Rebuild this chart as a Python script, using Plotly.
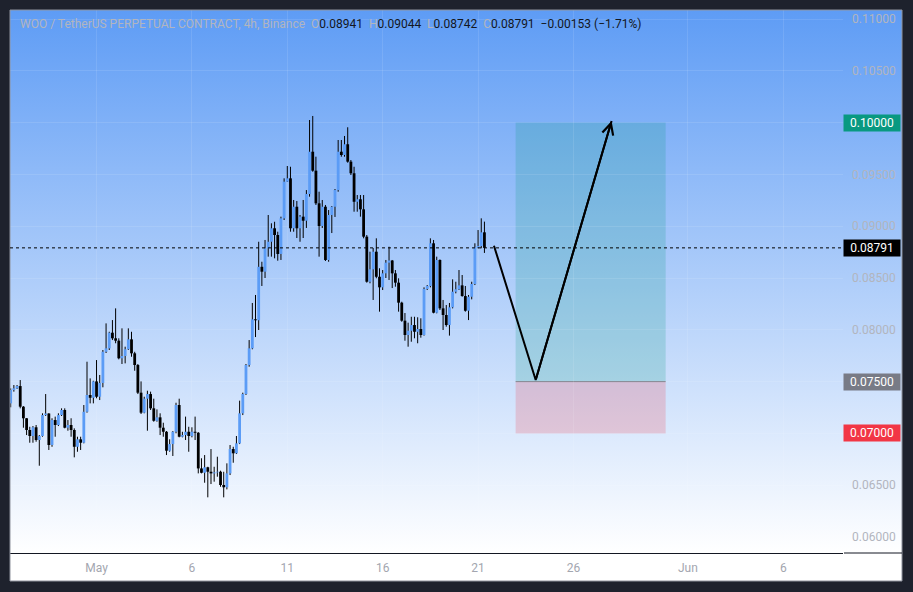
import base64
import pandas as pd
import plotly.graph_objects as go

# ---------------- data ----------------
start_time = "2025-04-26 12:00"
n_candles = 150
times = pd.date_range(start=start_time, periods=n_candles, freq="4h")

open_ = [0.07290, 0.07419, 0.07435, 0.07457, 0.07258, 0.07146, 0.07033, 0.06975, 0.07059, 0.06936,
         0.06975, 0.07177, 0.07192, 0.06888, 0.07129, 0.07081, 0.07177, 0.07226, 0.07055, 0.07081,
         0.07033, 0.06871, 0.06943, 0.06910, 0.07209, 0.07371, 0.07344, 0.07502, 0.07354, 0.07487,
         0.07788, 0.07821, 0.07972, 0.07918, 0.07895, 0.07725, 0.07747, 0.07812, 0.07908, 0.07773,
         0.07660, 0.07393, 0.07200, 0.07335, 0.07380, 0.07242, 0.07122, 0.07155, 0.07055, 0.07016,
         0.06833, 0.06897, 0.07016, 0.07274, 0.06968, 0.06984, 0.07016, 0.06975, 0.07016, 0.07006,
         0.06662, 0.06620, 0.06673, 0.06630, 0.06614, 0.06624, 0.06630, 0.06502, 0.06480, 0.06614,
         0.06849, 0.06808, 0.06904, 0.07194, 0.07380, 0.07660, 0.07821, 0.08101, 0.08092, 0.08608,
         0.08561, 0.08787, 0.08850, 0.08980, 0.08915, 0.08732, 0.09076, 0.09430, 0.09462, 0.08980,
         0.09188, 0.08980, 0.09092, 0.09053, 0.09311, 0.09719, 0.09536, 0.09221, 0.09002, 0.09188,
         0.08674, 0.09108, 0.09188, 0.09349, 0.09719, 0.09687, 0.09791, 0.09623, 0.09511, 0.09236,
         0.09260, 0.09163, 0.08899, 0.08464, 0.08584, 0.08754, 0.08512, 0.08410, 0.08545, 0.08648,
         0.08669, 0.08545, 0.08455, 0.08262, 0.08088, 0.07950, 0.07991, 0.08046, 0.07981, 0.08008,
         0.07950, 0.08394, 0.08423, 0.08835, 0.08165, 0.08674, 0.08207, 0.08143, 0.08046, 0.08217,
         0.08368, 0.08391, 0.08429, 0.08326, 0.08184, 0.08319, 0.08442, 0.08796, 0.08809, 0.08941]

high = [0.07435, 0.07467, 0.07467, 0.07515, 0.07264, 0.07148, 0.07064, 0.07071, 0.07081, 0.06984,
        0.07194, 0.07380, 0.07195, 0.07146, 0.07162, 0.07194, 0.07242, 0.07242, 0.07129, 0.07146,
        0.07049, 0.06968, 0.06968, 0.07274, 0.07692, 0.07531, 0.07508, 0.07708, 0.07564, 0.07805,
        0.08062, 0.07981, 0.08094, 0.08207, 0.07918, 0.08014, 0.07837, 0.08014, 0.07981, 0.07788,
        0.07670, 0.07502, 0.07354, 0.07412, 0.07403, 0.07335, 0.07232, 0.07194, 0.07103, 0.07023,
        0.06943, 0.07023, 0.07296, 0.07335, 0.07016, 0.07162, 0.07064, 0.07059, 0.07162, 0.07013,
        0.06760, 0.06791, 0.06678, 0.06849, 0.06678, 0.06775, 0.06640, 0.06630, 0.06711, 0.06888,
        0.06871, 0.06975, 0.07316, 0.07393, 0.07670, 0.07901, 0.08259, 0.08336, 0.08850, 0.08657,
        0.08867, 0.09108, 0.09028, 0.09043, 0.08947, 0.09092, 0.09462, 0.09581, 0.09574, 0.09253,
        0.09243, 0.09108, 0.09253, 0.09349, 0.10025, 0.10064, 0.09671, 0.09333, 0.09253, 0.09205,
        0.09156, 0.09195, 0.09359, 0.09832, 0.09832, 0.09871, 0.09955, 0.09639, 0.09574, 0.09301,
        0.09301, 0.09301, 0.08915, 0.08754, 0.08790, 0.08883, 0.08594, 0.08577, 0.08674, 0.08802,
        0.08674, 0.08577, 0.08497, 0.08271, 0.08162, 0.08069, 0.08126, 0.08126, 0.08121, 0.08111,
        0.08410, 0.08432, 0.08883, 0.08867, 0.08706, 0.08680, 0.08288, 0.08239, 0.08259, 0.08487,
        0.08464, 0.08577, 0.08529, 0.08423, 0.08336, 0.08464, 0.08835, 0.08963, 0.09076, 0.09044]

low = [0.07252, 0.07403, 0.07429, 0.07242, 0.07055, 0.06984, 0.06910, 0.06910, 0.06920, 0.06688,
       0.06968, 0.07168, 0.06840, 0.06871, 0.06968, 0.07071, 0.07168, 0.07049, 0.07026, 0.06968,
       0.06769, 0.06823, 0.06840, 0.06904, 0.07200, 0.07290, 0.07290, 0.07339, 0.07322, 0.07445,
       0.07776, 0.07805, 0.07901, 0.07870, 0.07715, 0.07670, 0.07676, 0.07805, 0.07740, 0.07605,
       0.07380, 0.07187, 0.07194, 0.07026, 0.07226, 0.07113, 0.07113, 0.06984, 0.06968, 0.06791,
       0.06823, 0.06782, 0.07001, 0.06962, 0.06962, 0.06936, 0.06823, 0.06962, 0.06936, 0.06614,
       0.06614, 0.06524, 0.06383, 0.06511, 0.06534, 0.06582, 0.06485, 0.06383, 0.06460, 0.06598,
       0.06717, 0.06801, 0.06897, 0.07177, 0.07371, 0.07644, 0.07812, 0.07930, 0.07998, 0.08423,
       0.08500, 0.08706, 0.08706, 0.08690, 0.08667, 0.08674, 0.09060, 0.09427, 0.08947, 0.08947,
       0.08886, 0.08850, 0.08886, 0.08983, 0.09285, 0.09526, 0.09205, 0.08706, 0.08983, 0.08664,
       0.08657, 0.08934, 0.09089, 0.09333, 0.09671, 0.09671, 0.09613, 0.09494, 0.09140, 0.09140,
       0.09092, 0.08883, 0.08455, 0.08449, 0.08288, 0.08497, 0.08175, 0.08384, 0.08500, 0.08481,
       0.08403, 0.08416, 0.08175, 0.08078, 0.07895, 0.07837, 0.07885, 0.07918, 0.07870, 0.07924,
       0.07944, 0.08384, 0.08410, 0.08159, 0.08159, 0.08191, 0.07998, 0.08030, 0.07944, 0.08207,
       0.08352, 0.08384, 0.08319, 0.08175, 0.08094, 0.08294, 0.08432, 0.08787, 0.08787, 0.08742]

close = [0.07419, 0.07435, 0.07457, 0.07258, 0.07146, 0.07033, 0.06975, 0.07059, 0.06936, 0.06975,
         0.07177, 0.07192, 0.06888, 0.07129, 0.07081, 0.07177, 0.07226, 0.07055, 0.07081, 0.07033,
         0.06871, 0.06943, 0.06910, 0.07209, 0.07371, 0.07344, 0.07502, 0.07354, 0.07487, 0.07788,
         0.07821, 0.07972, 0.07918, 0.07895, 0.07725, 0.07747, 0.07812, 0.07908, 0.07773, 0.07660,
         0.07393, 0.07200, 0.07335, 0.07380, 0.07242, 0.07122, 0.07155, 0.07055, 0.07016, 0.06833,
         0.06897, 0.07016, 0.07274, 0.06968, 0.06984, 0.07016, 0.06975, 0.07016, 0.07006, 0.06662,
         0.06620, 0.06673, 0.06630, 0.06614, 0.06624, 0.06630, 0.06502, 0.06480, 0.06614, 0.06849,
         0.06808, 0.06904, 0.07194, 0.07380, 0.07660, 0.07821, 0.08101, 0.08092, 0.08608, 0.08561,
         0.08787, 0.08850, 0.08980, 0.08915, 0.08732, 0.09076, 0.09430, 0.09462, 0.08980, 0.09188,
         0.08980, 0.09092, 0.09053, 0.09311, 0.09719, 0.09536, 0.09221, 0.09002, 0.09188, 0.08674,
         0.09108, 0.09188, 0.09349, 0.09719, 0.09687, 0.09791, 0.09623, 0.09511, 0.09236, 0.09260,
         0.09163, 0.08899, 0.08464, 0.08584, 0.08754, 0.08512, 0.08410, 0.08545, 0.08648, 0.08669,
         0.08545, 0.08455, 0.08262, 0.08088, 0.07950, 0.07991, 0.08046, 0.07981, 0.08008, 0.07950,
         0.08394, 0.08423, 0.08835, 0.08165, 0.08674, 0.08207, 0.08143, 0.08046, 0.08217, 0.08368,
         0.08391, 0.08429, 0.08326, 0.08184, 0.08319, 0.08442, 0.08796, 0.08809, 0.08941, 0.08791]

# long-position tool and drawn path
entry_price = 0.07500
target_price = 0.10000
stop_price = 0.07000
last_price = 0.08791
tool_start = "2025-05-22 23:15"
tool_end = "2025-05-30 20:00"
path_times = ["2025-05-21 20:00", "2025-05-24 00:30", "2025-05-28 00:00"]
path_prices = [0.08812, 0.07515, 0.10015]

x_tick_vals = ["2025-05-01", "2025-05-06", "2025-05-11", "2025-05-16", "2025-05-21",
               "2025-05-26", "2025-06-01", "2025-06-06"]
x_tick_text = ["May", "6", "11", "16", "21", "26", "Jun", "6"]
y_tick_vals = [0.060, 0.065, 0.070, 0.075, 0.080, 0.085, 0.090, 0.095, 0.100, 0.105, 0.110]
boxed_prices = [0.100, 0.075, 0.070]
y_tick_text = ["" if v in boxed_prices else "%.5f" % v for v in y_tick_vals]

x_range = ["2025-04-26 11:08", "2025-06-09 03:07"]
y_range = [0.058456, 0.110869]

title_text = "WOO / TetherUS PERPETUAL CONTRACT, 4h, Binance"
ohlc_text = ("<span style='color:#b2b5be'>O</span>0.08941  <span style='color:#b2b5be'>H</span>0.09044  "
             "<span style='color:#b2b5be'>L</span>0.08742  <span style='color:#b2b5be'>C</span>0.08791  "
             "\u22120.00153 (\u22121.71%)")

# ---------------- styles ----------------
UP = "#5b9cf6"
DOWN = "#000000"
FRAME = "#1e222d"
FONT = "Roboto"
W, H = 913, 592
ML, MR, MT, MB = 10, 70, 10, 39
PW, PH = W - ML - MR, H - MT - MB
MIN_BODY = 0.00005

def px_x(p):
    return (p - ML) / PW

def px_y(p):
    return (H - MB - p) / PH

fig = go.Figure()

# wicks
wx, wy = [], []
for t, hi, lo in zip(times, high, low):
    wx += [t, t, None]
    wy += [hi, lo, None]
fig.add_trace(go.Scatter(x=wx, y=wy, mode="lines", line=dict(color="#000000", width=1),
                         hoverinfo="skip", showlegend=False))

# bodies as thick vertical segments, drawn after wicks
for is_up, col in [(True, UP), (False, DOWN)]:
    bx, by = [], []
    for t, o, c in zip(times, open_, close):
        if (c >= o) != is_up:
            continue
        lo_b, hi_b = min(o, c), max(o, c)
        if hi_b - lo_b < MIN_BODY:
            mid = (hi_b + lo_b) / 2
            lo_b, hi_b = mid - MIN_BODY / 2, mid + MIN_BODY / 2
        bx += [t, t, None]
        by += [lo_b, hi_b, None]
    fig.add_trace(go.Scatter(x=bx, y=by, mode="lines", line=dict(color=col, width=2.8),
                             hoverinfo="skip", showlegend=False))

# drawn path
fig.add_trace(go.Scatter(x=path_times, y=path_prices, mode="lines",
                         line=dict(color="#000000", width=2), hoverinfo="skip", showlegend=False))

shapes = []
shapes += [
    dict(type="rect", xref="paper", yref="paper", x0=-0.05, x1=px_x(10), y0=-0.2, y1=1.2,
         fillcolor=FRAME, line=dict(width=0), layer="above"),
    dict(type="rect", xref="paper", yref="paper", x0=px_x(902), x1=1.2, y0=-0.2, y1=1.2,
         fillcolor=FRAME, line=dict(width=0), layer="above"),
    dict(type="rect", xref="paper", yref="paper", x0=-0.05, x1=1.2, y0=px_y(10), y1=1.2,
         fillcolor=FRAME, line=dict(width=0), layer="above"),
    dict(type="rect", xref="paper", yref="paper", x0=-0.05, x1=1.2, y0=-0.2, y1=px_y(581),
         fillcolor=FRAME, line=dict(width=0), layer="above"),
    dict(type="rect", xref="paper", yref="paper", x0=px_x(10), x1=px_x(902), y0=px_y(581), y1=px_y(10),
         fillcolor="rgba(0,0,0,0)", line=dict(color="#8f939e", width=1), layer="above"),
    dict(type="line", xref="paper", yref="paper", x0=px_x(844), x1=px_x(902), y0=0, y1=0,
         line=dict(color="#131722", width=1), layer="above"),
]
shapes += [
    dict(type="rect", xref="x", yref="y", x0=tool_start, x1=tool_end, y0=entry_price, y1=target_price,
         fillcolor="rgba(8,153,129,0.2)", line=dict(width=0), layer="below"),
    dict(type="rect", xref="x", yref="y", x0=tool_start, x1=tool_end, y0=stop_price, y1=entry_price,
         fillcolor="rgba(242,54,69,0.2)", line=dict(width=0), layer="below"),
    dict(type="line", xref="x", yref="y", x0=tool_start, x1=tool_end, y0=entry_price, y1=entry_price,
         line=dict(color="#787b86", width=1), layer="below"),
]
shapes.append(dict(type="line", xref="paper", yref="y", x0=0, x1=1, y0=last_price, y1=last_price,
                   line=dict(color="#000000", width=1, dash="dot"), layer="above"))

annotations = []
annotations.append(dict(x=path_times[2], y=path_prices[2], ax=path_times[1], ay=path_prices[1],
                        xref="x", yref="y", axref="x", ayref="y", text="", showarrow=True,
                        arrowhead=5, arrowsize=1.1, arrowwidth=2, arrowcolor="#000000", standoff=0))
for val, bg in [(target_price, "#089981"), (last_price, "#000000"), (entry_price, "#787b86"),
                (stop_price, "#f23645")]:
    annotations.append(dict(x=1, xref="paper", xanchor="left", y=val, yref="y", yanchor="middle",
                            text="%.5f" % val, showarrow=False, bgcolor=bg, width=56, height=16,
                            borderpad=0, align="center",
                            font=dict(family=FONT, size=12, color="#ffffff")))
annotations.append(dict(x=px_x(18), y=px_y(24), xref="paper", yref="paper", xanchor="left",
                        yanchor="middle", showarrow=False,
                        text="<span style='color:#b2b5be'>" + title_text + "</span>  " + ohlc_text,
                        font=dict(family=FONT, size=12, color="#131722")))

svg = ('<svg xmlns="http://www.w3.org/2000/svg" width="100" height="100" preserveAspectRatio="none">'
       '<defs><linearGradient id="g" x1="0" y1="0" x2="0" y2="1">'
       '<stop offset="0" stop-color="#5e9cf5"/><stop offset="1" stop-color="#ffffff"/>'
       '</linearGradient></defs><rect width="100" height="100" fill="url(#g)"/></svg>')
src = "data:image/svg+xml;base64," + base64.b64encode(svg.encode()).decode()

fig.update_layout(
    width=W, height=H,
    margin=dict(l=ML, r=MR, t=MT, b=MB, pad=0),
    paper_bgcolor="#ffffff",
    plot_bgcolor="rgba(0,0,0,0)",
    showlegend=False,
    font=dict(family=FONT, size=12, color="#a3a6af"),
    shapes=shapes,
    annotations=annotations,
    images=[dict(source=src, xref="paper", yref="paper", x=0, y=1, sizex=px_x(902), sizey=1,
                 xanchor="left", yanchor="top", sizing="stretch", layer="below")],
    xaxis=dict(type="date", range=x_range, tickvals=x_tick_vals, ticktext=x_tick_text,
               showgrid=True, gridcolor="rgba(255,255,255,0.10)", gridwidth=1,
               showline=True, linecolor="#131722", linewidth=1, ticks="", zeroline=False,
               ticklabelstandoff=4,
               tickfont=dict(family=FONT, size=12, color="#a3a6af"), fixedrange=True),
    yaxis=dict(side="right", range=y_range, tickvals=y_tick_vals, ticktext=y_tick_text,
               showgrid=True, gridcolor="rgba(255,255,255,0.10)", gridwidth=1,
               showline=False, zeroline=False, ticks="", ticklabelstandoff=8,
               tickfont=dict(family=FONT, size=12, color="#b2b5be"), fixedrange=True),
)

fig.write_html("out.html", config={"displayModeBar": False},
               post_script="document.body.style.margin='0';document.body.style.overflow='hidden';"
                           "document.body.style.background='#1e222d';")
